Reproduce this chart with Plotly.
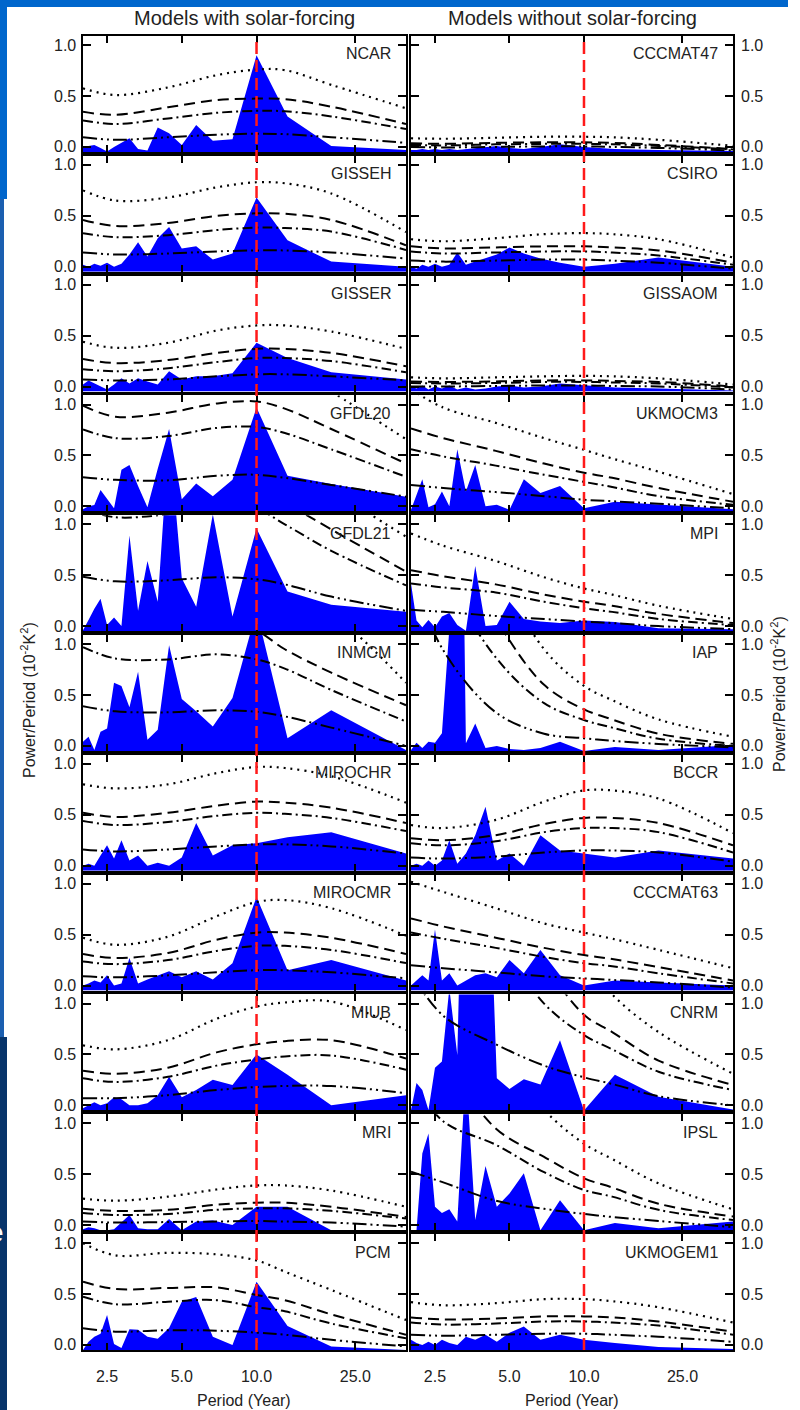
import math
import plotly.graph_objects as go

# ---------------- data ----------------
PERIODS = [2.0, 2.105, 2.222, 2.353, 2.5, 2.667, 2.857, 3.077, 3.333, 3.636,
           4.0, 4.444, 5.0, 5.714, 6.667, 8.0, 10.0, 13.33, 20.0, 40.0]
CURVE_PERIODS = [2.0, 2.7, 4.4, 6.9, 10.0, 13.0, 20.0, 40.0]

LEFT_MODELS = ["NCAR", "GISSEH", "GISSER", "GFDL20", "GFDL21", "INMCM",
               "MIROCHR", "MIROCMR", "MIUB", "MRI", "PCM"]
RIGHT_MODELS = ["CCCMAT47", "CSIRO", "GISSAOM", "UKMOCM3", "MPI", "IAP",
                "BCCR", "CCCMAT63", "CNRM", "IPSL", "UKMOGEM1"]

SPECTRUM = {
    "NCAR":    [0.0, 0.01, 0.02, -0.01, -0.045, 0.0, 0.04, 0.085, -0.02, -0.035, 0.19, 0.135, 0.02, 0.215, 0.06, 0.075, 0.90, 0.30, 0.01, -0.03],
    "GISSEH":  [0.02, 0.0, 0.03, 0.01, 0.04, 0.0, 0.03, 0.12, 0.24, 0.10, 0.28, 0.39, 0.18, 0.20, 0.07, 0.13, 0.68, 0.26, 0.05, 0.0],
    "GISSER":  [0.02, 0.06, 0.03, 0.0, -0.03, 0.02, 0.08, 0.03, 0.08, 0.05, 0.02, 0.15, 0.07, 0.10, 0.10, 0.13, 0.43, 0.28, 0.14, 0.07],
    "GFDL20":  [-0.03, 0.0, 0.014, 0.16, 0.07, -0.02, 0.36, 0.405, 0.2, -0.01, 0.37, 0.76, 0.07, 0.225, 0.10, 0.26, 0.97, 0.30, 0.22, 0.095],
    "GFDL21":  [-0.04, 0.06, 0.17, 0.27, 0.01, 0.085, 0.0, 0.89, 0.15, 0.64, 0.24, 1.9, 0.47, 0.19, 1.1, 0.095, 0.96, 0.34, 0.21, 0.14],
    "INMCM":   [0.04, 0.09, -0.04, 0.14, 0.17, 0.62, 0.59, 0.38, 0.73, 0.06, 0.16, 0.99, 0.46, 0.34, 0.19, 0.47, 1.33, 0.075, 0.35, -0.04],
    "MIROCHR": [0.0, 0.02, 0.0, 0.1, 0.2, 0.07, 0.25, 0.05, 0.1, 0.0, 0.03, 0.0, 0.08, 0.42, 0.1, 0.2, 0.22, 0.28, 0.33, 0.12],
    "MIROCMR": [0.0, 0.02, 0.05, 0.03, 0.1, 0.0, 0.02, 0.27, 0.02, 0.06, 0.1, 0.14, 0.08, 0.14, 0.06, 0.22, 0.87, 0.15, 0.25, 0.05],
    "MIUB":    [-0.03, 0.0, 0.03, 0.0, 0.02, 0.08, 0.06, 0.0, 0.0, 0.02, 0.1, 0.28, 0.08, 0.15, 0.25, 0.2, 0.5, 0.3, 0.0, 0.1],
    "MRI":     [-0.04, -0.02, -0.03, -0.05, -0.05, -0.04, 0.03, 0.10, -0.03, -0.04, -0.04, 0.06, -0.05, 0.035, 0.045, 0.0, 0.18, 0.18, -0.05, -0.05],
    "PCM":     [-0.05, 0.03, 0.08, 0.11, 0.295, 0.01, -0.03, 0.155, 0.15, 0.08, 0.06, 0.165, 0.425, 0.47, 0.08, 0.0, 0.62, 0.185, -0.015, -0.05],
    "CCCMAT47": [-0.03, -0.03, -0.02, -0.03, -0.02, -0.03, -0.02, -0.03, -0.02, -0.01, 0.0, 0.01, -0.01, -0.02, 0.0, 0.025, 0.0, -0.02, -0.03, -0.04],
    "CSIRO":   [0.0, -0.02, 0.02, 0.0, 0.03, 0.0, 0.02, 0.14, 0.02, 0.05, 0.08, 0.12, 0.19, 0.13, 0.08, 0.04, 0.0, 0.03, 0.09, 0.0],
    "GISSAOM": [0.0, -0.02, 0.01, -0.03, 0.0, -0.02, 0.01, -0.03, -0.01, -0.03, -0.02, 0.0, 0.01, -0.01, 0.0, 0.03, 0.01, -0.01, -0.02, -0.04],
    "UKMOCM3": [-0.035, 0.11, 0.265, -0.01, 0.02, 0.145, 0.0, 0.56, 0.145, 0.405, 0.0, 0.015, -0.035, 0.265, 0.13, 0.2, -0.02, 0.045, 0.015, -0.03],
    "MPI":     [0.42, 0.055, -0.01, 0.06, -0.01, 0.095, 0.13, 0.01, -0.045, 0.59, 0.0, 0.01, 0.24, 0.07, 0.045, 0.03, 0.055, 0.04, -0.02, -0.03],
    "IAP":     [-0.04, 0.03, -0.02, 0.04, 0.03, 0.125, 1.15, 6.5, 0.025, 0.22, -0.02, 0.0, -0.03, -0.04, -0.02, 0.04, -0.05, -0.01, -0.04, 0.01],
    "BCCR":    [0.0, 0.02, 0.0, 0.05, 0.0, 0.05, 0.25, 0.02, 0.12, 0.3, 0.58, 0.05, 0.12, 0.0, 0.3, 0.15, 0.12, 0.08, 0.15, 0.07],
    "CCCMAT63": [0.0, 0.05, 0.1, 0.05, 0.55, 0.05, 0.12, 0.0, 0.05, 0.1, 0.12, 0.08, 0.25, 0.12, 0.35, 0.1, 0.0, 0.05, 0.03, 0.0],
    "CNRM":    [-0.045, 0.22, 0.15, -0.045, 0.37, 0.43, 1.15, 0.495, 4.0, 3.0, 3.4, 0.265, 0.16, 0.255, 0.205, 0.64, -0.05, 0.30, 0.085, -0.04],
    "IPSL":    [-0.05, -0.05, 0.705, 0.90, 0.18, 0.12, 0.155, 0.035, 1.55, 0.05, 0.58, 0.18, 0.31, 0.51, -0.05, 0.245, -0.05, 0.02, -0.03, 0.035],
    "UKMOGEM1": [0.05, 0.02, 0.0, 0.03, 0.0, 0.05, 0.02, 0.0, 0.08, 0.05, 0.1, 0.03, 0.12, 0.18, 0.05, 0.1, 0.05, 0.02, -0.02, -0.04],
}

DOTTED = {
    "NCAR":    [0.575, 0.51, 0.585, 0.705, 0.76, 0.755, 0.61, 0.38],
    "GISSEH":  [0.75, 0.65, 0.68, 0.78, 0.83, 0.82, 0.72, 0.34],
    "GISSER":  [0.44, 0.38, 0.43, 0.55, 0.60, 0.60, 0.54, 0.37],
    "GFDL20":  [1.55, 1.42, 1.48, 1.58, 1.55, 1.42, 1.13, 0.66],
    "GFDL21":  [2.0, 1.8, 1.85, 2.0, 1.9, 1.7, 1.35, 0.88],
    "INMCM":   [1.75, 1.55, 1.53, 1.65, 1.6, 1.5, 1.3, 0.62],
    "MIROCHR": [0.80, 0.76, 0.80, 0.91, 0.97, 0.96, 0.88, 0.62],
    "MIROCMR": [0.47, 0.40, 0.48, 0.68, 0.82, 0.84, 0.76, 0.49],
    "MIUB":    [0.59, 0.55, 0.64, 0.85, 0.97, 1.01, 1.02, 0.74],
    "MRI":     [0.26, 0.24, 0.28, 0.35, 0.39, 0.39, 0.34, 0.18],
    "PCM":     [1.0, 0.88, 0.905, 0.89, 0.83, 0.72, 0.54, 0.245],
    "CCCMAT47": [0.085, 0.08, 0.09, 0.10, 0.10, 0.095, 0.07, 0.01],
    "CSIRO":   [0.27, 0.25, 0.28, 0.32, 0.33, 0.32, 0.27, 0.09],
    "GISSAOM": [0.09, 0.08, 0.09, 0.10, 0.105, 0.10, 0.08, 0.02],
    "UKMOCM3": [1.15, 0.97, 0.82, 0.67, 0.555, 0.47, 0.34, 0.12],
    "MPI":     [0.91, 0.79, 0.64, 0.48, 0.37, 0.31, 0.20, 0.07],
    "IAP":     [4.5, 3.0, 1.8, 0.95, 0.59, 0.45, 0.26, 0.09],
    "BCCR":    [0.40, 0.37, 0.45, 0.63, 0.74, 0.74, 0.66, 0.32],
    "CCCMAT63": [1.02, 0.92, 0.76, 0.61, 0.52, 0.46, 0.35, 0.17],
    "CNRM":    [6.0, 4.5, 3.0, 2.1, 1.45, 1.09, 0.72, 0.31],
    "IPSL":    [3.5, 2.6, 1.7, 1.13, 0.80, 0.65, 0.41, 0.155],
    "UKMOGEM1": [0.42, 0.39, 0.41, 0.45, 0.45, 0.43, 0.37, 0.22],
}

DASHED = {
    "NCAR":    [0.345, 0.315, 0.39, 0.46, 0.475, 0.47, 0.395, 0.225],
    "GISSEH":  [0.46, 0.40, 0.43, 0.50, 0.525, 0.52, 0.46, 0.21],
    "GISSER":  [0.27, 0.23, 0.26, 0.33, 0.37, 0.37, 0.33, 0.20],
    "GFDL20":  [0.99, 0.88, 0.92, 1.01, 1.03, 0.96, 0.76, 0.42],
    "GFDL21":  [1.45, 1.3, 1.35, 1.45, 1.4, 1.22, 0.95, 0.535],
    "INMCM":   [1.31, 1.16, 1.15, 1.22, 1.13, 0.95, 0.72, 0.40],
    "MIROCHR": [0.52, 0.48, 0.52, 0.59, 0.63, 0.62, 0.57, 0.42],
    "MIROCMR": [0.31, 0.27, 0.32, 0.45, 0.52, 0.52, 0.47, 0.31],
    "MIUB":    [0.34, 0.31, 0.37, 0.52, 0.60, 0.63, 0.64, 0.46],
    "MRI":     [0.16, 0.14, 0.15, 0.20, 0.22, 0.22, 0.18, 0.08],
    "PCM":     [0.62, 0.55, 0.56, 0.565, 0.49, 0.44, 0.30, 0.10],
    "CCCMAT47": [0.035, 0.03, 0.04, 0.045, 0.045, 0.04, 0.02, -0.02],
    "CSIRO":   [0.20, 0.18, 0.19, 0.20, 0.20, 0.19, 0.16, 0.04],
    "GISSAOM": [0.05, 0.045, 0.05, 0.06, 0.06, 0.055, 0.045, 0.0],
    "UKMOCM3": [0.765, 0.67, 0.545, 0.42, 0.33, 0.28, 0.18, 0.045],
    "MPI":     [0.55, 0.49, 0.41, 0.31, 0.24, 0.20, 0.12, 0.03],
    "IAP":     [3.5, 2.2, 1.25, 0.6, 0.36, 0.26, 0.12, 0.02],
    "BCCR":    [0.27, 0.25, 0.30, 0.41, 0.47, 0.47, 0.42, 0.20],
    "CCCMAT63": [0.66, 0.58, 0.47, 0.37, 0.30, 0.26, 0.18, 0.05],
    "CNRM":    [4.5, 3.3, 2.2, 1.4, 0.89, 0.72, 0.44, 0.20],
    "IPSL":    [2.2, 1.65, 0.95, 0.67, 0.46, 0.37, 0.21, 0.085],
    "UKMOGEM1": [0.27, 0.25, 0.26, 0.28, 0.28, 0.27, 0.23, 0.13],
}

DASHDOT = {
    "NCAR":    [0.26, 0.225, 0.28, 0.335, 0.355, 0.35, 0.30, 0.175],
    "GISSEH":  [0.33, 0.29, 0.31, 0.36, 0.385, 0.38, 0.345, 0.165],
    "GISSER":  [0.17, 0.15, 0.18, 0.24, 0.28, 0.28, 0.25, 0.14],
    "GFDL20":  [0.755, 0.67, 0.69, 0.77, 0.78, 0.72, 0.56, 0.29],
    "GFDL21":  [1.15, 1.07, 1.1, 1.17, 1.15, 1.0, 0.74, 0.40],
    "INMCM":   [0.97, 0.86, 0.85, 0.90, 0.85, 0.76, 0.55, 0.24],
    "MIROCHR": [0.44, 0.40, 0.43, 0.49, 0.52, 0.51, 0.47, 0.34],
    "MIROCMR": [0.235, 0.21, 0.25, 0.34, 0.39, 0.39, 0.35, 0.22],
    "MIUB":    [0.265, 0.23, 0.28, 0.39, 0.45, 0.48, 0.49, 0.35],
    "MRI":     [0.12, 0.10, 0.11, 0.15, 0.165, 0.165, 0.14, 0.065],
    "PCM":     [0.475, 0.40, 0.425, 0.44, 0.37, 0.33, 0.21, 0.065],
    "CCCMAT47": [0.02, 0.015, 0.025, 0.03, 0.03, 0.025, 0.01, -0.025],
    "CSIRO":   [0.15, 0.13, 0.14, 0.15, 0.15, 0.14, 0.11, 0.02],
    "GISSAOM": [0.035, 0.03, 0.035, 0.045, 0.045, 0.04, 0.03, -0.01],
    "UKMOCM3": [0.56, 0.49, 0.40, 0.31, 0.24, 0.19, 0.10, 0.015],
    "MPI":     [0.42, 0.38, 0.33, 0.24, 0.175, 0.14, 0.07, 0.01],
    "IAP":     [2.8, 1.75, 0.87, 0.42, 0.255, 0.18, 0.07, 0.0],
    "BCCR":    [0.22, 0.20, 0.24, 0.33, 0.37, 0.37, 0.33, 0.13],
    "CCCMAT63": [0.52, 0.46, 0.37, 0.28, 0.22, 0.19, 0.12, 0.02],
    "CNRM":    [3.5, 2.6, 1.7, 1.0, 0.69, 0.55, 0.33, 0.15],
    "IPSL":    [1.45, 1.02, 0.79, 0.52, 0.345, 0.28, 0.15, 0.05],
    "UKMOGEM1": [0.22, 0.20, 0.21, 0.23, 0.23, 0.22, 0.19, 0.10],
}

DASHDOTDOT = {
    "NCAR":    [0.095, 0.07, 0.095, 0.12, 0.13, 0.125, 0.095, 0.04],
    "GISSEH":  [0.14, 0.12, 0.13, 0.15, 0.16, 0.16, 0.14, 0.08],
    "GISSER":  [0.07, 0.06, 0.07, 0.10, 0.12, 0.12, 0.10, 0.06],
    "GFDL20":  [0.285, 0.26, 0.255, 0.30, 0.31, 0.28, 0.21, 0.095],
    "GFDL21":  [0.485, 0.44, 0.45, 0.48, 0.46, 0.41, 0.29, 0.15],
    "INMCM":   [0.39, 0.34, 0.33, 0.35, 0.335, 0.29, 0.18, 0.0],
    "MIROCHR": [0.16, 0.14, 0.16, 0.19, 0.21, 0.21, 0.19, 0.12],
    "MIROCMR": [0.09, 0.08, 0.10, 0.13, 0.15, 0.15, 0.13, 0.07],
    "MIUB":    [0.07, 0.07, 0.10, 0.15, 0.18, 0.19, 0.19, 0.12],
    "MRI":     [0.035, 0.025, 0.03, 0.035, 0.04, 0.035, 0.025, -0.015],
    "PCM":     [0.165, 0.13, 0.145, 0.14, 0.12, 0.10, 0.05, -0.015],
    "CCCMAT47": [0.0, -0.005, 0.0, 0.005, 0.005, 0.0, -0.01, -0.035],
    "CSIRO":   [0.06, 0.05, 0.06, 0.07, 0.07, 0.06, 0.04, -0.02],
    "GISSAOM": [0.0, 0.0, 0.005, 0.01, 0.01, 0.005, 0.0, -0.03],
    "UKMOCM3": [0.21, 0.18, 0.14, 0.10, 0.065, 0.05, 0.025, -0.02],
    "MPI":     [0.16, 0.14, 0.10, 0.07, 0.045, 0.03, 0.0, -0.03],
    "IAP":     [1.7, 0.94, 0.33, 0.12, 0.075, 0.05, 0.02, -0.015],
    "BCCR":    [0.08, 0.07, 0.09, 0.13, 0.15, 0.15, 0.13, 0.04],
    "CCCMAT63": [0.20, 0.17, 0.13, 0.09, 0.07, 0.055, 0.03, -0.02],
    "CNRM":    [1.3, 0.88, 0.6, 0.39, 0.275, 0.21, 0.09, 0.0],
    "IPSL":    [0.525, 0.42, 0.24, 0.16, 0.11, 0.08, 0.04, -0.02],
    "UKMOGEM1": [0.10, 0.09, 0.10, 0.11, 0.11, 0.10, 0.08, 0.03],
}

X_TICKVALS = [2.5, 5.0, 10.0, 25.0]
X_TICKTEXT = ["2.5", "5.0", "10.0", "25.0"]
Y_TICKVALS = [0.0, 0.5, 1.0]
Y_TICKTEXT = ["0.0", "0.5", "1.0"]
X_RANGE = [2.0, 40.0]
Y_RANGE = [-0.05, 1.09]
SOLAR_PERIOD = 10.0

COL_TITLES = ["Models with solar-forcing", "Models without solar-forcing"]
X_TITLE = "Period (Year)"
Y_TITLE = "Power/Period (10<sup>-2</sup>K<sup>2</sup>)"

# ---------------- layout geometry (pixels) ----------------
W, H = 800, 1410
COL_X = [(83, 406), (411, 733)]
ROW_TOP0, ROW_H, ROW_STEP = 36, 116, 119.8
FONT = "Liberation Sans, Arial, Helvetica, sans-serif"
TXT = "#222222"
BLUE = "rgb(0,0,255)"

LINE_STYLES = [
    (DOTTED, "2px,5px", 2.2),
    (DASHED, "11px,6px", 2.0),
    (DASHDOT, "10px,4px,2px,4px", 2.0),
    (DASHDOTDOT, "14px,4px,2px,4px,2px,4px", 2.0),
]

fig = go.Figure()
layout = {}
annotations = []
n_rows = len(LEFT_MODELS)

for c, models in enumerate([LEFT_MODELS, RIGHT_MODELS]):
    x0p, x1p = COL_X[c]
    for r, name in enumerate(models):
        idx = r * 2 + c + 1
        xa = "x" if idx == 1 else f"x{idx}"
        ya = "y" if idx == 1 else f"y{idx}"
        xkey = "xaxis" if idx == 1 else f"xaxis{idx}"
        ykey = "yaxis" if idx == 1 else f"yaxis{idx}"
        top = ROW_TOP0 + ROW_STEP * r
        bot = top + ROW_H

        spec = SPECTRUM[name]
        fig.add_trace(go.Scatter(
            x=[PERIODS[0]] + PERIODS + [PERIODS[-1]],
            y=[Y_RANGE[0]] + spec + [Y_RANGE[0]],
            fill="toself", fillcolor=BLUE, mode="lines",
            line=dict(width=0, color=BLUE), hoverinfo="skip",
            xaxis=xa, yaxis=ya, showlegend=False))
        for store, dash, width in LINE_STYLES:
            fig.add_trace(go.Scatter(
                x=CURVE_PERIODS, y=store[name], mode="lines",
                line=dict(color="black", width=width, dash=dash,
                          shape="spline", smoothing=1.0),
                hoverinfo="skip", xaxis=xa, yaxis=ya, showlegend=False))

        layout[xkey] = dict(
            domain=[x0p / W, x1p / W], anchor=ya, type="log",
            range=[math.log10(X_RANGE[0]), math.log10(X_RANGE[1])],
            tickvals=X_TICKVALS, ticktext=X_TICKTEXT,
            ticks="inside", ticklen=7, tickwidth=1.5, tickcolor="black",
            showline=True, linewidth=1.6, linecolor="black", mirror="ticks",
            showgrid=False, zeroline=False,
            showticklabels=(r == n_rows - 1), ticklabelstandoff=11,
            tickfont=dict(family=FONT, size=16, color=TXT),
        )
        layout[ykey] = dict(
            domain=[1 - bot / H, 1 - top / H], anchor=xa,
            range=Y_RANGE, tickvals=Y_TICKVALS,
            ticks="inside", ticklen=8, tickwidth=1.5, tickcolor="black",
            showline=True, linewidth=1.6, linecolor="black", mirror="ticks",
            showgrid=False, zeroline=False, showticklabels=False,
        )
        for tv, tt in zip(Y_TICKVALS, Y_TICKTEXT):
            if c == 0:
                annotations.append(dict(text=tt, x=(x0p - 5) / W, y=tv, xref="paper", yref=ya,
                                        showarrow=False, xanchor="right", yanchor="middle",
                                        font=dict(family=FONT, size=16, color=TXT)))
            else:
                annotations.append(dict(text=tt, x=(x1p + 6) / W, y=tv, xref="paper", yref=ya,
                                        showarrow=False, xanchor="left", yanchor="middle",
                                        font=dict(family=FONT, size=16, color=TXT)))

for c, models in enumerate([LEFT_MODELS, RIGHT_MODELS]):
    x0p, x1p = COL_X[c]
    cx = (x0p + x1p) / 2 / W
    annotations.append(dict(text=COL_TITLES[c], x=cx, y=1 - 17.5 / H, xref="paper", yref="paper",
                            showarrow=False, xanchor="center", yanchor="middle",
                            font=dict(family=FONT, size=20, color=TXT)))
    annotations.append(dict(text=X_TITLE, x=cx, y=1 - 1400 / H, xref="paper", yref="paper",
                            showarrow=False, xanchor="center", yanchor="middle",
                            font=dict(family=FONT, size=16, color=TXT)))
    for r, name in enumerate(models):
        top = ROW_TOP0 + ROW_STEP * r
        annotations.append(dict(text=name, x=(x1p - 13) / W, y=1 - (top + 18) / H,
                                xref="paper", yref="paper", showarrow=False,
                                xanchor="right", yanchor="middle",
                                font=dict(family=FONT, size=16, color=TXT)))

annotations.append(dict(text=Y_TITLE, x=28 / W, y=1 - 700 / H, xref="paper", yref="paper",
                        showarrow=False, textangle=-90, xanchor="center", yanchor="middle",
                        font=dict(family=FONT, size=16, color=TXT)))
annotations.append(dict(text=Y_TITLE, x=778 / W, y=1 - 694 / H, xref="paper", yref="paper",
                        showarrow=False, textangle=-90, xanchor="center", yanchor="middle",
                        font=dict(family=FONT, size=16, color=TXT)))
annotations.append(dict(text="e", x=0, y=1 - 1232 / H, xref="paper", yref="paper",
                        showarrow=False, xanchor="right", yanchor="middle", xshift=6,
                        font=dict(family=FONT, size=28, color="white")))

shapes = []
last_row = n_rows - 1
for c in range(2):
    idx = c + 1
    xa = "x" if idx == 1 else f"x{idx}"
    shapes.append(dict(type="line", xref=xa, yref="paper",
                       x0=SOLAR_PERIOD, x1=SOLAR_PERIOD,
                       y0=1 - (ROW_TOP0 + ROW_STEP * last_row + ROW_H) / H, y1=1 - ROW_TOP0 / H,
                       line=dict(color="#ff1a1a", width=2.5, dash="12px,6px"), layer="above"))
shapes += [
    dict(type="rect", xref="paper", yref="paper", x0=0, x1=788 / W, y0=1 - 7 / H, y1=1,
         fillcolor="#0066cc", line=dict(width=0), layer="below"),
    dict(type="rect", xref="paper", yref="paper", x0=0, x1=7 / W, y0=1 - 199 / H, y1=1,
         fillcolor="#0066cc", line=dict(width=0), layer="below"),
    dict(type="rect", xref="paper", yref="paper", x0=0, x1=4 / W, y0=1 - 1037 / H, y1=1 - 199 / H,
         fillcolor="#1b5fb0", line=dict(width=0), layer="below"),
    dict(type="rect", xref="paper", yref="paper", x0=0, x1=7 / W, y0=0, y1=1 - 1037 / H,
         fillcolor="#07346a", line=dict(width=0), layer="below"),
]

fig.update_layout(
    width=W, height=H, margin=dict(l=0, r=0, t=0, b=0),
    paper_bgcolor="white", plot_bgcolor="white",
    annotations=annotations, shapes=shapes, showlegend=False,
    **layout,
)

fig.write_html("out.html", config={"displayModeBar": False},
               post_script="document.body.style.margin='0';document.body.style.overflow='hidden';")
